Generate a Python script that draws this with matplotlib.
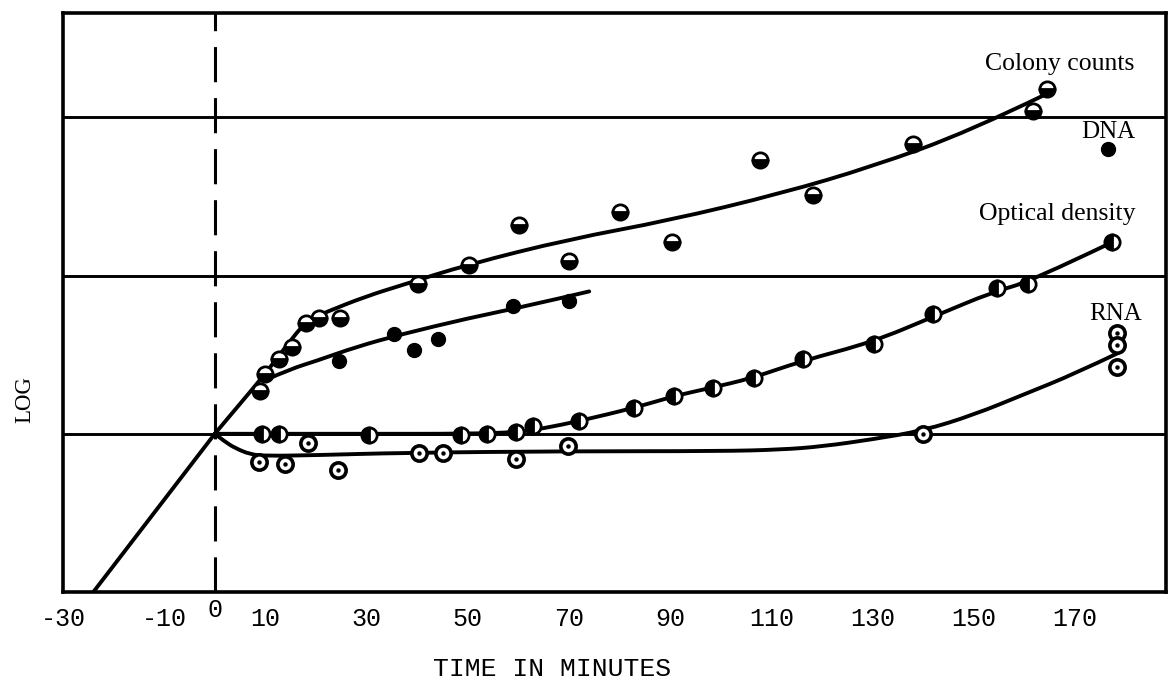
import matplotlib
matplotlib.use("Agg")
import matplotlib.pyplot as plt
from matplotlib.path import Path
from matplotlib.patches import PathPatch
from matplotlib.transforms import ScaledTranslation

# --- measured points (minutes, log units) ---
colony_x = [8.9, 9.9, 12.6, 15.2, 18.1, 20.5, 24.7, 40.2, 50.3, 60.2, 70.0, 80.1,
            90.3, 107.7, 118.3, 137.9, 161.7, 164.5]
colony_y = [0.27, 0.38, 0.47, 0.55, 0.70, 0.73, 0.73, 0.95, 1.07, 1.32, 1.09, 1.40,
            1.21, 1.73, 1.51, 1.83, 2.04, 2.18]

dna_x = [24.5, 35.5, 39.3, 44.2, 59.0, 70.0, 176.5]
dna_y = [0.46, 0.63, 0.53, 0.60, 0.81, 0.84, 1.80]

od_x = [9.3, 12.6, 30.4, 48.7, 53.8, 59.6, 62.9, 72.0, 82.8, 90.7, 98.4, 106.5,
        116.2, 130.2, 142.0, 154.6, 160.7, 177.3]
od_y = [0.0, 0.0, -0.01, -0.01, 0.0, 0.01, 0.05, 0.08, 0.165, 0.24, 0.29, 0.35,
        0.47, 0.57, 0.76, 0.92, 0.95, 1.21]

rna_x = [8.7, 13.8, 18.5, 24.3, 40.4, 45.2, 59.6, 69.8, 140.0, 178.3, 178.3, 178.3]
rna_y = [-0.18, -0.19, -0.06, -0.23, -0.12, -0.12, -0.16, -0.08, 0.0, 0.64, 0.56, 0.42]

# --- hand drawn curves (knots) ---
lag_x = [-24.0, 0.0]
lag_y = [-1.0, 0.0]

colony_cx = [0, 5, 10, 14, 18, 22, 30, 37, 50, 70, 90, 112, 130, 149, 164.5]
colony_cy = [0, 0.19, 0.38, 0.55, 0.71, 0.77, 0.87, 0.94, 1.07, 1.23, 1.35, 1.52, 1.69, 1.91, 2.15]

dna_cx = [10, 15, 20, 28, 37, 50, 62, 74]
dna_cy = [0.34, 0.41, 0.46, 0.55, 0.63, 0.73, 0.81, 0.90]

od_cx = [0, 30, 50, 60, 65, 72, 83, 91, 98, 106, 116, 130, 142, 154, 161, 177.3]
od_cy = [0, 0.0, 0.0, 0.01, 0.035, 0.08, 0.165, 0.24, 0.29, 0.35, 0.46, 0.58, 0.74, 0.9, 0.96, 1.21]

rna_cx = [0, 2, 4, 7, 10, 20, 37, 70, 100, 112, 120, 130, 140, 150, 160, 170, 178.5]
rna_cy = [0, -0.05, -0.09, -0.13, -0.14, -0.135, -0.12, -0.11, -0.11, -0.10, -0.08,
          -0.035, 0.02, 0.12, 0.25, 0.38, 0.51]

x_labels = [-30, -10, 0, 10, 30, 50, 70, 90, 110, 130, 150, 170]
x_grid = [-10, 10, 30, 50, 70, 90, 110, 130, 150, 170]
y_grid = [0, 1, 2]

serif = ["Liberation Serif", "DejaVu Serif"]
mono = ["Liberation Mono", "DejaVu Sans Mono"]


def smooth_curve(ax, xs, ys, lw):
    # quadratic bezier through the knot midpoints, like a french curve
    pts = list(zip(xs, ys))
    verts = [pts[0]]
    codes = [Path.MOVETO]
    n = len(pts)
    if n == 2:
        verts.append(pts[1])
        codes.append(Path.LINETO)
    for i in range(1, n - 1):
        if i == n - 2:
            end = pts[-1]
        else:
            end = ((pts[i][0] + pts[i + 1][0]) / 2, (pts[i][1] + pts[i + 1][1]) / 2)
        verts += [pts[i], end]
        codes += [Path.CURVE3, Path.CURVE3]
    ax.add_patch(PathPatch(Path(verts, codes), fill=False, lw=lw, ec="black",
                           capstyle="round", zorder=3))


fig = plt.figure(figsize=(11.7, 6.86), dpi=100)
ax = fig.add_axes([63 / 1170, 1 - 592 / 686, (1166 - 63) / 1170, (592 - 13) / 686])
ax.set_xlim(-30, 188)
ax.set_ylim(-1, 2.66)

for s in ax.spines.values():
    s.set_linewidth(2.6)

# grid
ax.set_xticks(x_grid, minor=True)
ax.set_yticks(y_grid, minor=True)
ax.set_yticks([])
ax.grid(True, which="minor", color="black", lw=2.1)
ax.tick_params(which="both", length=0)
ax.set_xticks(x_labels)
ax.set_xticklabels([str(v) for v in x_labels], fontfamily=mono, fontsize=18)
ax.tick_params(axis="x", pad=11)
for lab in ax.get_xticklabels():
    if lab.get_text() == "0":
        lab.set_transform(lab.get_transform() + ScaledTranslation(0, 7 / 72, fig.dpi_scale_trans))

ax.axvline(0, color="black", lw=2.2, ls=(0, (11.5, 5.2)), zorder=2)

lw = 2.8
smooth_curve(ax, lag_x, lag_y, lw)
smooth_curve(ax, colony_cx, colony_cy, lw)
smooth_curve(ax, dna_cx, dna_cy, lw)
smooth_curve(ax, od_cx, od_cy, lw)
smooth_curve(ax, rna_cx, rna_cy, lw)

ms = 11
ax.plot(colony_x, colony_y, "o", ms=ms, mew=2, mec="black", mfc="black",
        fillstyle="bottom", markerfacecoloralt="white", zorder=5)
ax.plot(dna_x, dna_y, "o", ms=10, mec="black", mfc="black", zorder=5)
ax.plot(od_x, od_y, "o", ms=ms, mew=2, mec="black", mfc="black",
        fillstyle="left", markerfacecoloralt="white", zorder=5)
ax.plot(rna_x, rna_y, "o", ms=ms, mew=2.6, mec="black", mfc="white", zorder=5)
ax.plot(rna_x, rna_y, "o", ms=2.2, mec="black", mfc="black", zorder=6)

ax.text(167, 2.34, "Colony counts", fontfamily=serif, fontsize=18.5, ha="center", va="center")
ax.text(176.5, 1.91, "DNA", fontfamily=serif, fontsize=18, ha="center", va="center")
ax.text(166.5, 1.39, "Optical density", fontfamily=serif, fontsize=18.5, ha="center", va="center")
ax.text(178, 0.76, "RNA", fontfamily=serif, fontsize=18, ha="center", va="center")

fig.text(552 / 1170, 1 - 669 / 686, "TIME IN MINUTES", fontfamily=mono, fontsize=19,
         ha="center", va="center")
fig.text(25 / 1170, 1 - 400 / 686, "LOG", fontfamily=serif, fontsize=16.5,
         rotation=90, ha="center", va="center")

fig.savefig("out.png", dpi=100)
